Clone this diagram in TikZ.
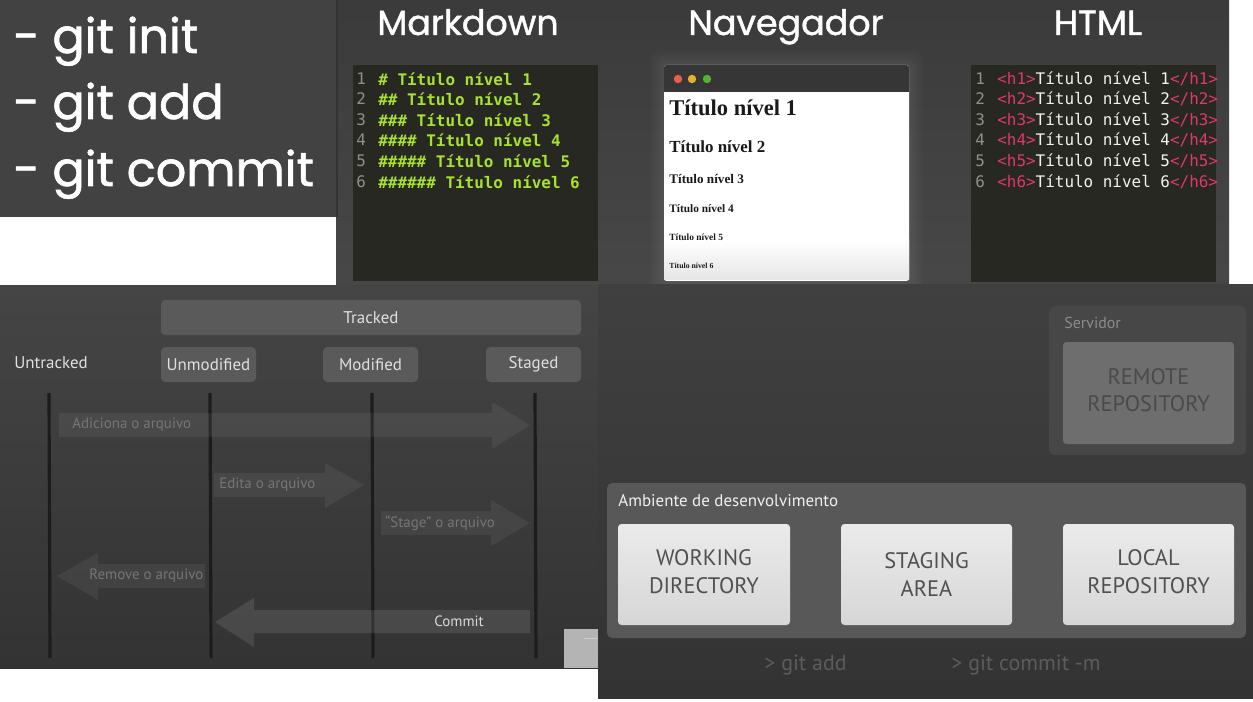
\documentclass[tikz,border=0pt]{standalone}
\usepackage{fontspec}
\setmainfont{PT Sans}
\newfontfamily\headfont{Poppins}[FakeBold=1.3]
\newfontfamily\codefont{DejaVu Sans Mono}
\newfontfamily\serifb{Liberation Serif}
\usetikzlibrary{fit}
\newcommand\pxs[1]{\fontsize{\fpeval{#1*0.5669}pt}{\fpeval{#1*0.5669*1.2}pt}\selectfont}
\newcommand\pxsl[2]{\fontsize{\fpeval{#1*0.5669}pt}{\fpeval{#2*0.5669}pt}\selectfont}
\definecolor{pone}{HTML}{424242}
\definecolor{codebg}{HTML}{272822}
\definecolor{mdgreen}{HTML}{A6E22E}
\definecolor{lnumc}{HTML}{8F908A}
\definecolor{tagc}{HTML}{E0386A}
\definecolor{htwhite}{HTML}{F2F2EE}
\definecolor{statefill}{HTML}{5A5A5A}
\definecolor{vline}{HTML}{1C1C1C}
\definecolor{arrtxt}{HTML}{767676}
\definecolor{srvfill}{HTML}{474747}
\definecolor{remfill}{HTML}{6E6E6E}
\definecolor{remtxt}{HTML}{4A4A4A}
\definecolor{ambfill}{HTML}{585858}
\definecolor{boxtxt}{HTML}{505050}
\definecolor{cmdtxt}{HTML}{5C5C5C}
\definecolor{dotred}{HTML}{EE5B4F}
\definecolor{dotyel}{HTML}{E6B12A}
\definecolor{dotgrn}{HTML}{55B332}
\definecolor{chipgray}{HTML}{B4B4B4}
\newcommand\tg[1]{\textcolor{tagc}{#1}}
\tikzset{
  headtxt/.style={font=\headfont\pxs{35}, text=white, inner sep=0, anchor=base},
  gittxt/.style={font=\headfont\pxs{48}, text=white, anchor=base west, inner sep=0},
  lnum/.style={font=\codefont\pxs{16}, text=lnumc, anchor=west, inner sep=0},
  mdcode/.style={font=\codefont\bfseries\pxs{16}, text=mdgreen, anchor=west, inner sep=0},
  htcode/.style={font=\codefont\pxs{16}, text=htwhite, anchor=west, inner sep=0},
  rend/.style={font=\serifb\bfseries\pxs{#1}, text=black!90, anchor=west, inner sep=0},
  fitbox/.style={inner sep=0, draw=none},
  statebox/.style={fitbox, fill=statefill, rounded corners=2.5pt},
  statetxt/.style={font=\pxs{17}, text=white!88!black},
  vbar/.style={draw=vline, line width=1.8pt},
  blockarrow/.style={fill=white, fill opacity=0.06},
  arrlabel/.style={font=\pxs{15}, text=arrtxt, anchor=west, inner sep=0},
  whitebox/.style={fitbox, rounded corners=2pt, top color=white!92!black, bottom color=white!84!black},
  bigtxt/.style={font=\pxsl{22.5}{28}, text=boxtxt, align=center},
}
\begin{document}
\begin{tikzpicture}[x=0.02cm,y=-0.02cm]
\useasboundingbox (0,0) rectangle (1253,702);
\fill[white] (0,0) rectangle (1253,702);
% ---------- panel 1
\fill[pone] (0,0) rectangle (336,217);
\node[gittxt] (g1) at (13,53) {- git init};
\node[gittxt] (g2) at (13,119) {- git add};
\node[gittxt] (g3) at (13,186) {- git commit};
% ---------- panel 2
\shade[top color=black!77, bottom color=black!72] (336,0) rectangle (1229,285);
\fill[black!80] (336,0) rectangle (338,217);
\node[headtxt] (hmd) at (468,35) {Markdown};
\node[headtxt] (hnav) at (786,35) {Navegador};
\node[headtxt] (hhtml) at (1098,35) {HTML};
% markdown code
\node[fitbox, fill=codebg, fit={(353,65) (598,281)}] (mdpanel) {};
\node[lnum] (mdn1) at (356,79) {1};
\node[lnum] (mdn2) at (356,99) {2};
\node[lnum] (mdn3) at (356,120) {3};
\node[lnum] (mdn4) at (356,140) {4};
\node[lnum] (mdn5) at (356,161) {5};
\node[lnum] (mdn6) at (356,182) {6};
\node[mdcode] (mdc1) at (378,79) {\# Título nível 1};
\node[mdcode] (mdc2) at (378,99) {\#\# Título nível 2};
\node[mdcode] (mdc3) at (378,120) {\#\#\# Título nível 3};
\node[mdcode] (mdc4) at (378,140) {\#\#\#\# Título nível 4};
\node[mdcode] (mdc5) at (378,161) {\#\#\#\#\# Título nível 5};
\node[mdcode] (mdc6) at (378,182) {\#\#\#\#\#\# Título nível 6};
% browser
\foreach \d in {2,4,...,14} \fill[white, opacity=0.012, rounded corners=4pt] (664-\d,65-\d) rectangle (909+\d,281+\d);
\node[fitbox, fill=white, rounded corners=1.5pt, fit={(664,65) (909,281)}] (browser) {};
\shade[top color=white, bottom color=white!90!black] (664,240) rectangle (909,280);
\node[fitbox, fill=black!79, rounded corners=1.5pt, fit={(664,65) (909,92)}] (titlebar) {};
\fill[black!79] (664,80) rectangle (909,92);
\fill[dotred] (678,79) circle (4.2);
\fill[dotyel] (692,79) circle (4.2);
\fill[dotgrn] (707,79) circle (4.2);
\node[rend=22.6] (r1) at (669,108) {Título nível 1};
\node[rend=17] (r2) at (669,147) {Título nível 2};
\node[rend=13.2] (r3) at (669,179) {Título nível 3};
\node[rend=11.4] (r4) at (669,209) {Título nível 4};
\node[rend=9.5] (r5) at (669,237) {Título nível 5};
\node[rend=7.8] (r6) at (669,266) {Título nível 6};
% html code
\node[fitbox, fill=codebg, fit={(971,65) (1216,282)}] (htpanel) {};
\node[lnum] (htn1) at (975,79) {1};
\node[lnum] (htn2) at (975,99) {2};
\node[lnum] (htn3) at (975,120) {3};
\node[lnum] (htn4) at (975,140) {4};
\node[lnum] (htn5) at (975,161) {5};
\node[lnum] (htn6) at (975,182) {6};
\node[htcode] (htc1) at (997,79) {\tg{<h1>}Título nível 1\tg{</h1>}};
\node[htcode] (htc2) at (997,99) {\tg{<h2>}Título nível 2\tg{</h2>}};
\node[htcode] (htc3) at (997,120) {\tg{<h3>}Título nível 3\tg{</h3>}};
\node[htcode] (htc4) at (997,140) {\tg{<h4>}Título nível 4\tg{</h4>}};
\node[htcode] (htc5) at (997,161) {\tg{<h5>}Título nível 5\tg{</h5>}};
\node[htcode] (htc6) at (997,182) {\tg{<h6>}Título nível 6\tg{</h6>}};
% ---------- bottom-left panel
\shade[top color=black!73, bottom color=black!80] (0,286) rectangle (598,668);
\node[statebox, fit={(161,300) (581,335)}] (tracked) {};
\node[statetxt] at (tracked.center) {Tracked};
\node[statetxt, anchor=west, inner sep=0] (untracked) at (14,363) {Untracked};
\node[statebox, fit={(161,347) (256,382)}] (unmod) {};
\node[statetxt] at (unmod.center) {Unmodified};
\node[statebox, fit={(323,347) (418,382)}] (mod) {};
\node[statetxt] at (mod.center) {Modified};
\node[statebox, fit={(486,347) (581,382)}] (staged) {};
\node[statetxt] at (staged.center) {Staged};
\coordinate (l1t) at (49,393); \coordinate (l1b) at (50,658);
\coordinate (l2t) at (210,393); \coordinate (l2b) at (211,658);
\coordinate (l3t) at (372,393); \coordinate (l3b) at (373,658);
\coordinate (l4t) at (535,393); \coordinate (l4b) at (536,658);
\draw[vbar] (l1t) -- (l1b);
\draw[vbar] (l2t) -- (l2b);
\draw[vbar] (l3t) -- (l3b);
\draw[vbar] (l4t) -- (l4b);
% block arrows
\fill[blockarrow] (59,413) -- (492,413) -- (492,402) -- (530,425) -- (492,449) -- (492,437) -- (59,437) -- cycle;
\node[arrlabel] (a1) at (72,425) {Adiciona o arquivo};
\fill[blockarrow] (214,473) -- (325,473) -- (325,463) -- (364,485) -- (325,508) -- (325,497) -- (214,497) -- cycle;
\node[arrlabel] (a2) at (219,485) {Edita o arquivo};
\fill[blockarrow] (381,511) -- (491,511) -- (491,500) -- (530,523) -- (491,546) -- (491,535) -- (381,535) -- cycle;
\node[arrlabel] (a3) at (385,523) {“Stage” o arquivo};
\fill[blockarrow] (205,564) -- (98,564) -- (98,553) -- (57,576) -- (98,600) -- (98,588) -- (205,588) -- cycle;
\node[arrlabel] (a4) at (89,576) {Remove o arquivo};
\fill[white, fill opacity=0.10] (530,610) -- (254,610) -- (254,598) -- (215,622) -- (254,647) -- (254,633) -- (530,633) -- cycle;
\node[arrlabel, text=white!85!black] (a5) at (434,621) {Commit};
\fill[chipgray] (564,629) rectangle (598,668);
\draw[white!80!black, line width=0.4pt] (584,638) -- (598,638);
% ---------- bottom-right panel
\shade[top color=black!75, bottom color=black!80] (598,285) rectangle (1253,698);
\node[fitbox, fill=srvfill, rounded corners=3pt, fit={(1049,306) (1246,455)}] (servidor) {};
\node[font=\pxs{16}, text=white!55!black, anchor=west, inner sep=0] (srvlbl) at (1064,323) {Servidor};
\node[fitbox, fill=remfill, rounded corners=2pt, fit={(1063,342) (1234,444)}] (remote) {};
\node[bigtxt, text=remtxt] at ([yshift=1.6pt]remote.center) {REMOTE\\REPOSITORY};
\node[fitbox, fill=ambfill, rounded corners=3pt, fit={(607,483) (1246,638)}] (amb) {};
\node[font=\pxs{17}, text=white!94!black, anchor=west, inner sep=0] (amblbl) at (618,501) {Ambiente de desenvolvimento};
\node[whitebox, fit={(618,524) (790,625)}] (wd) {};
\node[bigtxt] at ([yshift=1.6pt]wd.center) {WORKING\\DIRECTORY};
\node[whitebox, fit={(841,524) (1012,625)}] (sa) {};
\node[bigtxt] at ([yshift=0.2pt]sa.center) {STAGING\\AREA};
\node[whitebox, fit={(1063,524) (1234,625)}] (lr) {};
\node[bigtxt] at ([yshift=1.6pt]lr.center) {LOCAL\\REPOSITORY};
\node[font=\pxs{22}, text=cmdtxt, anchor=west, inner sep=0] (cadd) at (764,665) {> git add};
\node[font=\pxs{22}, text=cmdtxt, anchor=west, inner sep=0] (ccommit) at (951,665) {> git commit -m};
\end{tikzpicture}
\end{document}
